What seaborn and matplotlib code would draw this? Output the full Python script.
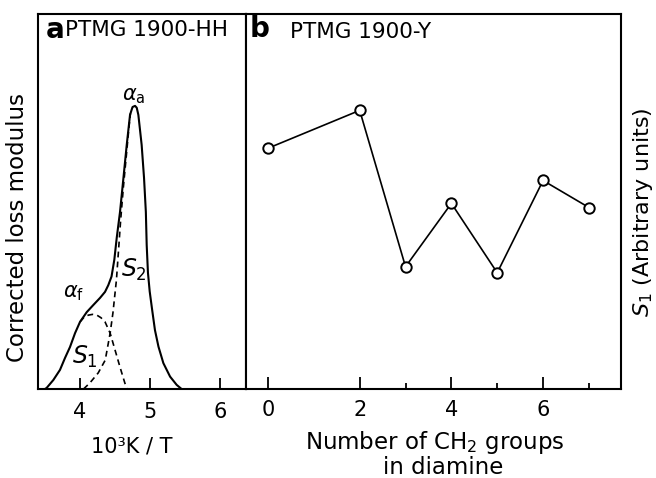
import matplotlib
matplotlib.use("Agg")
import matplotlib.pyplot as plt
import seaborn as sns
import pandas as pd

# ---- Panel a: corrected loss modulus vs 10^3 K/T ----
total_x = [3.50, 3.524, 3.619, 3.714, 3.786, 3.857, 3.929, 4.00, 4.096, 4.19, 4.286, 4.357,
           4.404, 4.45, 4.49, 4.524, 4.571, 4.62, 4.667, 4.714, 4.75, 4.786, 4.81, 4.833,
           4.88, 4.914, 4.94, 4.952, 4.97, 4.995, 5.03, 5.07, 5.12, 5.19, 5.286, 5.38, 5.45]
total_y = [0.000, 0.003, 0.024, 0.051, 0.083, 0.112, 0.149, 0.179, 0.205, 0.224, 0.243, 0.259,
           0.277, 0.300, 0.345, 0.403, 0.472, 0.563, 0.651, 0.731, 0.752, 0.755, 0.750, 0.731,
           0.651, 0.563, 0.472, 0.384, 0.310, 0.260, 0.211, 0.157, 0.113, 0.069, 0.033, 0.011, 0.000]
s1_x = [4.00, 4.06, 4.12, 4.18, 4.24, 4.30, 4.357, 4.43, 4.50, 4.57, 4.64, 4.67]
s1_y = [0.179, 0.192, 0.197, 0.199, 0.197, 0.190, 0.179, 0.149, 0.104, 0.059, 0.016, 0.000]
s2_x = [4.05, 4.14, 4.26, 4.36, 4.43, 4.47, 4.50, 4.52, 4.55, 4.58, 4.62, 4.665, 4.70, 4.72]
s2_y = [0.000, 0.016, 0.043, 0.077, 0.149, 0.203, 0.256, 0.291, 0.370, 0.450, 0.540, 0.630, 0.700, 0.735]
a_ticks = [4, 5, 6]

# ---- Panel b: S1 vs number of CH2 groups ----
groups = [0, 2, 3, 4, 5, 6, 7]
s1_values = [0.642, 0.743, 0.326, 0.495, 0.310, 0.556, 0.484]
b_major = [0, 2, 4, 6]
b_minor = [3, 5, 7]

sns.set_style("white")
plt.rcParams['font.family'] = ['DejaVu Sans']
plt.rcParams['mathtext.fontset'] = 'dejavusans'
plt.rcParams['text.color'] = 'black'
plt.rcParams['axes.labelcolor'] = 'black'
plt.rcParams['xtick.color'] = 'black'
plt.rcParams['ytick.color'] = 'black'

W, H = 656, 478
fig = plt.figure(figsize=(W / 100, H / 100), dpi=100)

def fx(px):
    return px / W

def fy(py):
    return 1 - py / H

ax_a = fig.add_axes([fx(38), fy(389), fx(246) - fx(38), fy(14) - fy(389)])
ax_b = fig.add_axes([fx(246), fy(389), fx(621) - fx(246), fy(14) - fy(389)])

df_tot = pd.DataFrame({"x": total_x, "y": total_y})
df_s1 = pd.DataFrame({"x": s1_x, "y": s1_y})
df_s2 = pd.DataFrame({"x": s2_x, "y": s2_y})
sns.lineplot(data=df_tot, x="x", y="y", ax=ax_a, color="black", lw=1.5,
             sort=False, estimator=None)
sns.lineplot(data=df_s1, x="x", y="y", ax=ax_a, color="black", lw=1.2,
             sort=False, estimator=None, linestyle=(0, (3.5, 2.5)))
sns.lineplot(data=df_s2, x="x", y="y", ax=ax_a, color="black", lw=1.2,
             sort=False, estimator=None, linestyle=(0, (3.5, 2.5)))

ax_a.set_xlim(3.4, 6.37)
ax_a.set_ylim(0, 1)
ax_a.set_xticks(a_ticks)
ax_a.set_xticklabels([str(t) for t in a_ticks])
ax_a.set_yticks([])
ax_a.set_xlabel("")
ax_a.set_ylabel("")
ax_a.tick_params(axis="x", direction="in", length=8, width=1.3, labelsize=15,
                 pad=9, color="black", labelcolor="black", bottom=True)

ax_a.text(4.76, 0.78, r"$\alpha_\mathrm{a}$", fontsize=15, ha="center", va="center")
ax_a.text(3.91, 0.256, r"$\alpha_\mathrm{f}$", fontsize=15, ha="center", va="center")
ax_a.text(4.77, 0.317, r"$S_2$", fontsize=17, ha="center", va="center")
ax_a.text(4.07, 0.085, r"$S_1$", fontsize=17, ha="center", va="center")

df_b = pd.DataFrame({"n": groups, "s1": s1_values})
sns.lineplot(data=df_b, x="n", y="s1", ax=ax_b, color="black", lw=1.2,
             marker="o", markersize=7.5, markerfacecolor="white",
             markeredgecolor="black", markeredgewidth=1.4, estimator=None)
ax_b.set_xlim(-0.48, 7.7)
ax_b.set_ylim(0, 1)
ax_b.set_xticks(b_major)
ax_b.set_xticklabels([str(t) for t in b_major])
ax_b.set_xticks(b_minor, minor=True)
ax_b.set_yticks([])
ax_b.set_xlabel("")
ax_b.set_ylabel("")
ax_b.tick_params(axis="x", which="major", direction="in", length=9, width=1.3,
                 labelsize=15, pad=8, color="black", labelcolor="black", bottom=True)
ax_b.tick_params(axis="x", which="minor", direction="in", length=4, width=1.3,
                 color="black", bottom=True)

for ax in (ax_a, ax_b):
    for sp in ax.spines.values():
        sp.set_visible(True)
        sp.set_color("black")
        sp.set_linewidth(1.5)

# panel headings
fig.text(fx(46), fy(30), "a", fontsize=20, fontweight="bold", ha="left", va="center")
fig.text(fx(65), fy(30), "PTMG 1900-HH", fontsize=15.5, ha="left", va="center")
fig.text(fx(250), fy(29), "b", fontsize=20, fontweight="bold", ha="left", va="center")
fig.text(fx(290), fy(32), "PTMG 1900-Y", fontsize=15.5, ha="left", va="center")

# axis labels
fig.text(fx(18), fy(227), "Corrected loss modulus", fontsize=16.5, rotation=90,
         ha="center", va="center")
fig.text(fx(132), fy(447), "10³K / T", fontsize=15, ha="center", va="center")
fig.text(fx(435), fy(443), r"Number of CH$_2$ groups", fontsize=16.5, ha="center", va="center")
fig.text(fx(443), fy(467), "in diamine", fontsize=16.5, ha="center", va="center")
fig.text(fx(643), fy(212), r"$S_1$ (Arbitrary units)", fontsize=16, rotation=90,
         ha="center", va="center")

fig.savefig("out.png", dpi=100)
